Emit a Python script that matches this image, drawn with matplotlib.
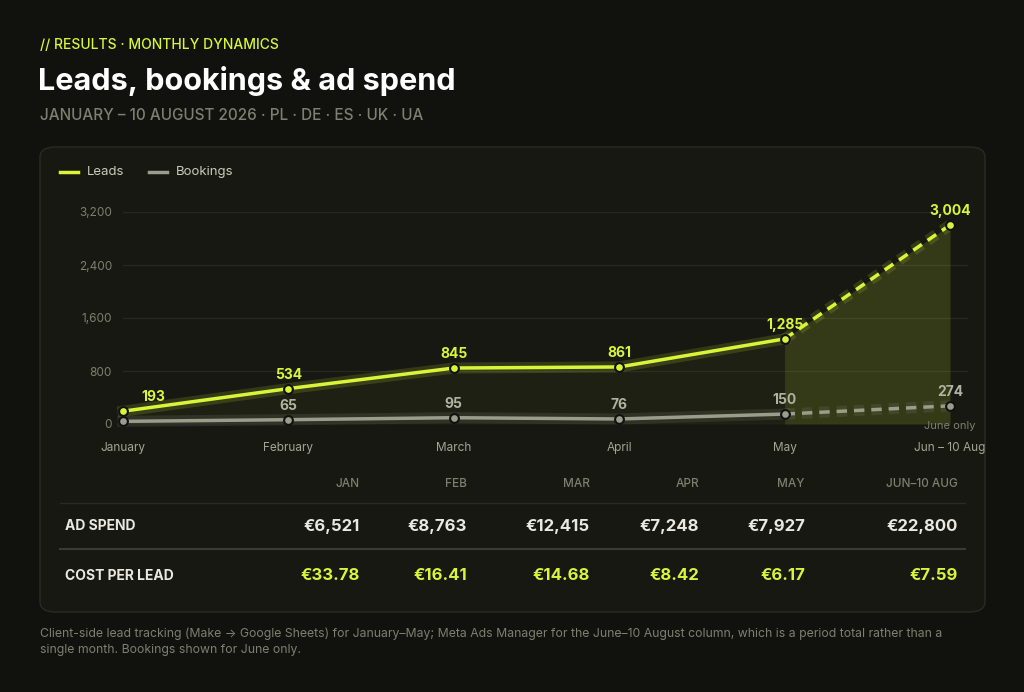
import matplotlib
matplotlib.use("Agg")
import matplotlib.pyplot as plt
from matplotlib.patches import FancyBboxPatch
import matplotlib.patheffects as pe
import numpy as np

months = ["January", "February", "March", "April", "May", "Jun – 10 Aug"]
leads = [193, 534, 845, 861, 1285, 3004]
bookings = [40, 65, 95, 76, 150, 274]
booking_labels = ["", "65", "95", "76", "150", "274"]
yticks = [0, 800, 1600, 2400, 3200]
col_heads = ["JAN", "FEB", "MAR", "APR", "MAY", "JUN–10 AUG"]
ad_spend = ["€6,521", "€8,763", "€12,415", "€7,248", "€7,927", "€22,800"]
cpl = ["€33.78", "€16.41", "€14.68", "€8.42", "€6.17", "€7.59"]

W, H = 1024, 692
BG = "#11120e"; PANEL = "#171812"; LIME = "#d8f53a"; GREY = "#9a9c8c"; TXT = "#e9e9e2"; MUTED = "#7d7f70"
plt.rcParams['font.family'] = ['Inter', 'DejaVu Sans']
fig = plt.figure(figsize=(W/100, H/100), dpi=100, facecolor=BG)

def fx(x): return x / W
def fy(y): return 1 - y / H

fig.patches.append(FancyBboxPatch((fx(40), fy(612)), fx(945), 465/H, boxstyle="round,pad=0,rounding_size=0.015",
                                  transform=fig.transFigure, facecolor=PANEL, edgecolor="#2a2b22", lw=1, zorder=-10))

fig.text(fx(40), fy(45), "// RESULTS · MONTHLY DYNAMICS", color=LIME, fontsize=10, va="center", fontweight="medium")
fig.text(fx(38), fy(81), "Leads, bookings & ad spend", color="white", fontsize=22, fontweight="bold", va="center")
fig.text(fx(40), fy(116), "JANUARY – 10 AUGUST 2026 · PL · DE · ES · UK · UA", color=MUTED, fontsize=11, va="center", fontweight="medium")

fig.add_artist(plt.Line2D([fx(60), fx(78)], [fy(172)]*2, color=LIME, lw=2.5, transform=fig.transFigure))
fig.text(fx(87), fy(172), "Leads", color="#c9cabb", fontsize=9.5, va="center")
fig.add_artist(plt.Line2D([fx(149), fx(167)], [fy(172)]*2, color=GREY, lw=2.5, transform=fig.transFigure))
fig.text(fx(176), fy(172), "Bookings", color="#c9cabb", fontsize=9.5, va="center")

ax = fig.add_axes([fx(123), fy(424), (968-123)/W, (424-212)/H], zorder=2)
ax.set_facecolor("none")
x = np.arange(len(months))
ax.set_xlim(0, 5*(968-123)/(950-123)); ax.set_ylim(0, 3200)
for s in ax.spines.values(): s.set_visible(False)
ax.set_yticks(yticks); ax.set_yticklabels([f"{v:,}" for v in yticks], color=MUTED, fontsize=8.5)
ax.set_xticks(x); ax.set_xticklabels(months, color="#a3a595", fontsize=8.5)
ax.tick_params(length=0, pad=8)
ax.tick_params(axis="x", pad=13)
ax.grid(axis="y", color="#26271f", lw=1)
ax.set_axisbelow(True)

glow = lambda c: [pe.Stroke(linewidth=8, foreground=c, alpha=0.15), pe.Normal()]
ax.fill_between(x[4:], [0, 0], leads[4:], color=LIME, alpha=0.12, lw=0, zorder=1)
ax.fill_between(x, 0, leads, color=LIME, alpha=0.04, lw=0, zorder=1)
ax.plot(x[:5], leads[:5], color=LIME, lw=2.5, path_effects=glow(LIME), zorder=4, clip_on=False)
ax.plot(x[4:], leads[4:], color=LIME, lw=2.5, ls=(0, (3, 2)), path_effects=glow(LIME), zorder=4, clip_on=False)
ax.plot(x[:5], bookings[:5], color=GREY, lw=2.5, path_effects=glow(GREY), zorder=3, clip_on=False)
ax.plot(x[4:], bookings[4:], color=GREY, lw=2.5, ls=(0, (3, 2)), path_effects=glow(GREY), zorder=3, clip_on=False)
ax.scatter(x, leads, s=40, color=LIME, edgecolor="#111", lw=1.5, zorder=5, clip_on=False)
ax.scatter(x, bookings, s=40, color=GREY, edgecolor="#111", lw=1.5, zorder=5, clip_on=False)
for i, v in enumerate(leads):
    dx = 22 if i == 0 else 0
    ax.annotate(f"{v:,}", (x[i], v), xytext=(dx, 7), textcoords="offset points", ha="center",
                color=LIME, fontsize=10, fontweight="bold", zorder=6)
for i, lab in enumerate(booking_labels):
    if lab:
        ax.annotate(lab, (x[i], bookings[i]), xytext=(0, 7), textcoords="offset points", ha="center",
                    color="#b0b2a2", fontsize=10, fontweight="bold", zorder=6)
ax.annotate("June only", (x[5], bookings[5]), xytext=(0, -17), textcoords="offset points", ha="center",
            color=MUTED, fontsize=8)

rights = [360, 467, 590, 699, 805, 958]
for r, h, a, c in zip(rights, col_heads, ad_spend, cpl):
    fig.text(fx(r), fy(484), h, color=MUTED, fontsize=8.5, ha="right", va="center", fontweight="medium")
    fig.text(fx(r), fy(526), a, color=TXT, fontsize=12, ha="right", va="center", fontweight="bold")
    fig.text(fx(r), fy(576), c, color=LIME, fontsize=12, ha="right", va="center", fontweight="bold")
fig.text(fx(65), fy(526), "AD SPEND", color=TXT, fontsize=10, va="center", fontweight="bold")
fig.text(fx(65), fy(576), "COST PER LEAD", color=TXT, fontsize=10, va="center", fontweight="bold")
fig.add_artist(plt.Line2D([fx(60), fx(965)], [fy(503)]*2, color="#2a2b22", lw=1, transform=fig.transFigure))
fig.add_artist(plt.Line2D([fx(60), fx(965)], [fy(549)]*2, color="#3a3b32", lw=1.5, transform=fig.transFigure))

fig.text(fx(40), fy(642), "Client-side lead tracking (Make → Google Sheets) for January–May; Meta Ads Manager for the June–10 August column, which is a period total rather than a\nsingle month. Bookings shown for June only.",
         color=MUTED, fontsize=8.8, va="center", linespacing=1.5)

fig.savefig("out.png", dpi=100, facecolor=BG)
